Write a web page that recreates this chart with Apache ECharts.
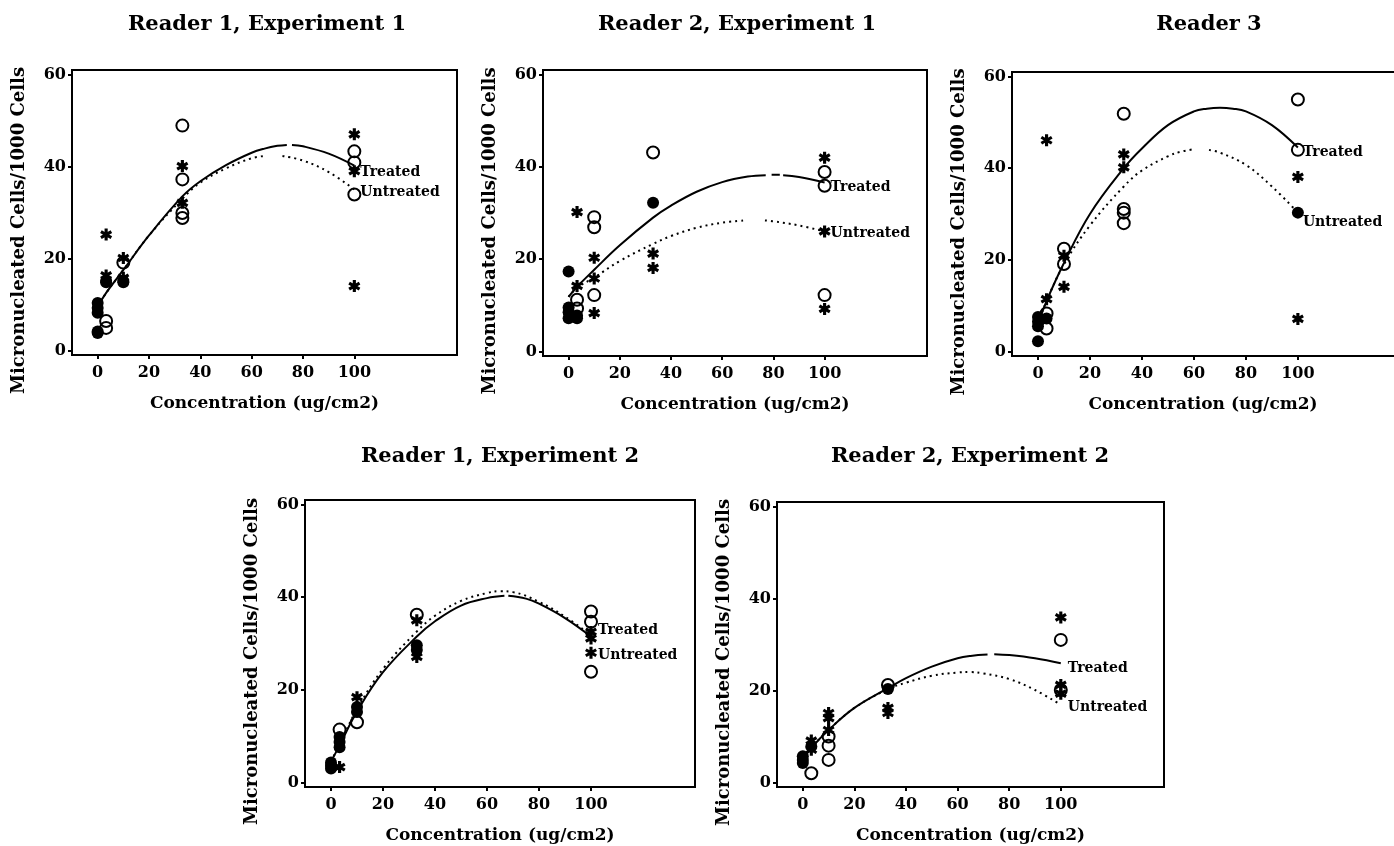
<!DOCTYPE html>
<html><head><meta charset="utf-8">
<script src="https://cdn.jsdelivr.net/npm/echarts@6/dist/echarts.min.js"></script>
<style>html,body{margin:0;padding:0;background:#fff}#c{width:1394px;height:846px}</style>
</head><body><div id="c"></div>
<script>
// ---------- tick labels ----------
const xTicks = [0, 20, 40, 60, 80, 100];
const yTicks = [0, 20, 40, 60];
const panelTitles = ['Reader 1, Experiment 1', 'Reader 2, Experiment 1', 'Reader 3', 'Reader 1, Experiment 2', 'Reader 2, Experiment 2'];
const xName = 'Concentration (ug/cm2)';
const yName = 'Micronucleated Cells/1000 Cells';
const lineNames = ['Treated', 'Untreated'];

// ---------- Reader 1, Experiment 1 ----------
const r1e1Open = [[3.3,6.4],[3.3,4.9],[10,19.1],[33,48.9],[33,37.2],[33,29.9],[33,28.8],[100,43.3],[100,40.9],[100,33.9]];
const r1e1Star = [[3.3,25.2],[3.3,16.3],[10,20.1],[10,15.8],[33,40.1],[33,32.1],[100,47],[100,39],[100,14]];
const r1e1Filled = [[0,10.3],[0,9.2],[0,8.2],[0,4.1],[0,3.8],[3.3,15.1],[3.3,14.8],[10,15.1],[10,14.8]];
const r1e1Treated = [[0,9.5],[3.3,12.5],[10,17.5],[20,25],[33,33.5],[40,36.8],[50,40.3],[60,43],[65,43.9],[70,44.5],[73.7,44.7],[73.8,'-'],[75.7,44.7],[80,44.4],[90,42.8],[100,40.2]];
const r1e1Untreated = [[0,9.5],[3.3,12.5],[10,17.5],[20,25],[33,33],[40,36.5],[50,39.6],[60,41.8],[65,42.3],[65.1,'-'],[72,42.3],[80,41.3],[90,38.8],[100,35]];

// ---------- Reader 2, Experiment 1 ----------
const r2e1Open = [[3.3,11.2],[3.3,9.3],[10,29.1],[10,26.9],[10,12.2],[33,43.1],[100,38.9],[100,35.9],[100,12.2]];
const r2e1Star = [[3.3,30.2],[3.3,14.2],[10,20.3],[10,15.8],[10,8.3],[33,21.2],[33,18.1],[100,42],[100,26],[100,9.2]];
const r2e1Filled = [[0,17.3],[0,9.5],[0,8.5],[0,7.2],[3.3,7.8],[3.3,7.2],[33,32.2]];
const r2e1Treated = [[0,11.8],[3.3,14],[10,17.7],[20,23],[33,29],[40,31.6],[50,34.6],[60,36.7],[70,37.9],[77,38.2],[77.1,'-'],[79.3,38.3],[82.5,38.3],[82.6,'-'],[83.8,38.2],[90,37.8],[100,36.6]];
const r2e1Untreated = [[0,11.8],[3.3,13.8],[10,16],[20,19.6],[33,23.3],[40,25],[50,26.8],[60,27.9],[69,28.4],[69.1,'-'],[76.7,28.4],[80,28.2],[90,27.3],[100,26]];

// ---------- Reader 3 ----------
const r3Open = [[3.3,8.3],[3.3,5],[10,22.4],[10,19.1],[33,51.9],[33,31.1],[33,30.3],[33,28],[100,55],[100,44]];
const r3Star = [[3.3,46.1],[3.3,11.4],[10,20.9],[10,14.1],[33,43],[33,40.2],[100,38.1],[100,7.1]];
const r3Filled = [[0,2.2],[0,7.5],[0,6.5],[0,5.5],[3.3,7.2],[100,30.3]];
const r3Treated = [[0,6],[3.3,11],[10,19.3],[20,30],[33,40],[40,44.3],[50,49.4],[60,52.4],[65,53],[70,53.2],[75,53],[80,52.4],[90,49.4],[100,44.5]];
const r3Untreated = [[0,6],[3.3,11],[10,19],[20,27.5],[33,36],[40,39.5],[50,42.6],[55,43.6],[60.6,44.2],[60.7,'-'],[65.8,44],[70,43.4],[80,40.7],[90,36],[100,30.3]];

// ---------- Reader 1, Experiment 2 ----------
const r1e2Open = [[3.3,11.4],[10,13],[33,36.2],[100,36.9],[100,34.7],[100,23.9]];
const r1e2Star = [[3.3,3.3],[10,18.4],[33,35],[33,27.1],[100,32.5],[100,31.1],[100,28]];
const r1e2Filled = [[0,4.3],[0,3.6],[0,3],[3.3,9.8],[3.3,8.7],[3.3,7.6],[10,16.3],[10,15.2],[33,29.6],[33,28.6]];
const r1e2Treated = [[0,4.5],[3.3,8],[10,15.3],[20,23.8],[33,31.5],[40,34.8],[50,38.2],[60,39.8],[66.7,40.3],[66.8,'-'],[68.2,40.3],[75,39.7],[80,38.6],[90,35.5],[100,31.5]];
const r1e2Untreated = [[0,4.5],[3.3,8.2],[10,15.8],[20,24.5],[33,32.6],[40,36],[50,39.2],[60,40.9],[65,41.3],[70,41.1],[80,39],[90,35.8],[100,31.8]];

// ---------- Reader 2, Experiment 2 ----------
const r2e2Open = [[3.3,2],[10,10],[10,8],[10,4.9],[33,21.2],[100,31],[100,20.1]];
const r2e2Star = [[3.3,9.1],[3.3,7.1],[10,15.1],[10,14],[10,11.4],[33,16.2],[33,15.1],[100,35.9],[100,21.2],[100,19.3]];
const r2e2Filled = [[0,5.7],[0,4.9],[0,4.2],[3.3,7.8],[33,20.3]];
const r2e2Treated = [[0,4.9],[3.3,7.5],[10,11.4],[20,16.2],[33,20.5],[40,22.7],[50,25.2],[60,27],[65,27.5],[71.6,27.8],[71.7,'-'],[74.2,27.9],[80,27.7],[90,27],[100,25.9]];
const r2e2Untreated = [[0,4.9],[3.3,7.5],[10,11.4],[20,16.2],[33,20.3],[40,21.7],[50,23.2],[60,23.9],[65,24],[70,23.7],[80,22.5],[90,20.1],[100,16.9]];

// ---------- assembly ----------
const panelData = [
  [r1e1Open, r1e1Star, r1e1Filled, r1e1Treated, r1e1Untreated],
  [r2e1Open, r2e1Star, r2e1Filled, r2e1Treated, r2e1Untreated],
  [r3Open, r3Star, r3Filled, r3Treated, r3Untreated],
  [r1e2Open, r1e2Star, r1e2Filled, r1e2Treated, r1e2Untreated],
  [r2e2Open, r2e2Star, r2e2Filled, r2e2Treated, r2e2Untreated]
];

const layouts = [
  {left: 72,   top: 70,  width: 385, height: 285, tx: 262,  ty: 9,   tOff: [1, 7],  uOff: [1, 3]},
  {left: 543,  top: 70,  width: 384, height: 286, tx: 732,  ty: 9,   tOff: [1, 5],  uOff: [1, 2]},
  {left: 1012, top: 72,  width: 388, height: 284, tx: 1204, ty: 9,   tOff: [0, 5],  uOff: [0, 10]},
  {left: 305,  top: 500, width: 390, height: 287, tx: 495,  ty: 441, tOff: [2, -6], uOff: [2, 20]},
  {left: 777,  top: 502, width: 387, height: 285, tx: 965,  ty: 441, tOff: [2, 5],  uOff: [2, 3]}
];
const rightClip = [false, false, true, false, false];

const FF = 'DejaVu Serif';
const asterisk = 'path://M-1.3,-5L1.3,-5L1.3,5L-1.3,5Z M3.68,-3.63L4.98,-1.37L-3.68,3.63L-4.98,1.37Z M4.98,1.37L3.68,3.63L-4.98,-1.37L-3.68,-3.63Z';

const option = {
  backgroundColor: '#fff',
  animation: false,
  title: [], grid: [], xAxis: [], yAxis: [], series: []
};

layouts.forEach((L, i) => {
  const [open, star, filled, tr, un] = panelData[i];
  option.title.push({
    text: panelTitles[i], left: L.tx, top: L.ty, textAlign: 'center',
    textStyle: {fontFamily: FF, fontWeight: 'bold', fontSize: 21, color: '#000'}
  });
  option.grid.push({left: L.left, top: L.top, width: rightClip[i] ? L.width + 6 : L.width, height: L.height,
    outerBoundsMode: 'none', containLabel: false,
    show: true, borderColor: '#000', borderWidth: 2, backgroundColor: 'transparent'});
  option.xAxis.push({
    type: 'value', gridIndex: i, min: -10, max: rightClip[i] ? 141.6 : 140,
    name: xName, nameLocation: 'middle', nameGap: 40,
    nameTextStyle: {fontFamily: FF, fontWeight: 'bold', fontSize: 17, color: '#000',
      padding: rightClip[i] ? [0, 12, 0, 0] : 0},
    axisLine: {show: true, onZero: false, lineStyle: {color: '#000', width: 2}},
    axisTick: {show: true, length: 4, customValues: xTicks, lineStyle: {color: '#000', width: 2}},
    axisLabel: {customValues: xTicks, margin: 10, fontFamily: FF, fontWeight: 'bold', fontSize: 16, color: '#000'},
    splitLine: {show: false}
  });
  option.yAxis.push({
    type: 'value', gridIndex: i, min: -1, max: 61,
    name: yName, nameLocation: 'middle', nameGap: 44,
    nameTextStyle: {fontFamily: FF, fontWeight: 'bold', fontSize: 18, color: '#000', padding: [0, 36, 0, 0]},
    axisLine: {show: true, onZero: false, lineStyle: {color: '#000', width: 2}},
    axisTick: {show: true, length: 4, customValues: yTicks, lineStyle: {color: '#000', width: 2}},
    axisLabel: {customValues: yTicks, margin: 6, fontFamily: FF, fontWeight: 'bold', fontSize: 16, color: '#000'},
    splitLine: {show: false}
  });
  const lab = (txt, off) => ({show: true, formatter: txt, offset: off, distance: 5,
    fontFamily: FF, fontWeight: 'bold', fontSize: 14, color: '#000'});
  option.series.push(
    {type: 'line', xAxisIndex: i, yAxisIndex: i, data: tr, smooth: 0.4, showSymbol: false, silent: true,
     connectNulls: false, lineStyle: {color: '#000', width: 2}, endLabel: lab(lineNames[0], L.tOff), z: 2},
    {type: 'line', xAxisIndex: i, yAxisIndex: i, data: un, smooth: 0.4, showSymbol: false, silent: true,
     connectNulls: false, lineStyle: {color: '#000', width: 2, type: [2, 4]}, endLabel: lab(lineNames[1], L.uOff), z: 2},
    {type: 'scatter', xAxisIndex: i, yAxisIndex: i, data: open, symbol: 'circle', symbolSize: 12,
     itemStyle: {color: 'rgba(0,0,0,0)', borderColor: '#000', borderWidth: 2, opacity: 1}, z: 3},
    {type: 'scatter', xAxisIndex: i, yAxisIndex: i, data: filled, symbol: 'circle', symbolSize: 12,
     itemStyle: {color: '#000', opacity: 1}, z: 3},
    {type: 'scatter', xAxisIndex: i, yAxisIndex: i, data: star, symbol: asterisk, symbolSize: 12,
     itemStyle: {color: '#000', opacity: 1}, z: 3}
  );
});

const chart = echarts.init(document.getElementById('c'), null, {renderer: 'canvas'});
chart.setOption(option);
</script>
</body></html>
